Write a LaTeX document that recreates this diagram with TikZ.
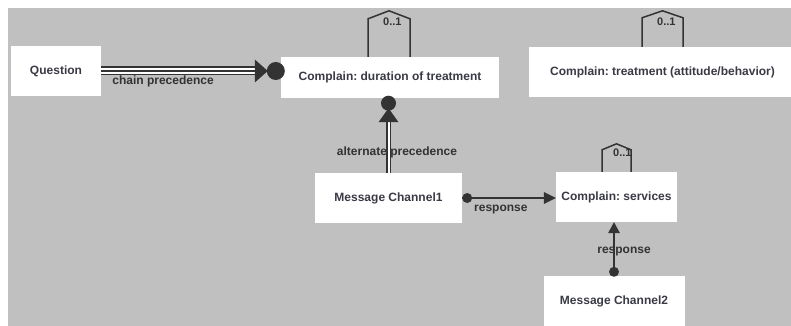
\documentclass[tikz,border=0pt]{standalone}
\usepackage{fontspec}
\setmainfont{Liberation Sans}
\usetikzlibrary{calc}
\definecolor{canvas}{RGB}{192,192,192}
\definecolor{ink}{RGB}{51,51,51}
\definecolor{boxtext}{RGB}{58,58,70}
\frenchspacing

\begin{document}
\begin{tikzpicture}[x=1pt,y=-1pt,
  actbox/.style={draw=none,fill=white,inner sep=0pt,
    font=\bfseries\fontsize{12}{14}\selectfont,text=boxtext},
  elabel/.style={font=\bfseries\fontsize{12}{14}\selectfont,text=ink,inner sep=0pt},
  mult/.style={font=\bfseries\fontsize{11}{13}\selectfont,text=ink,inner sep=0pt,anchor=west},
  wire/.style={draw=ink,line width=1.6pt},
  loopline/.style={draw=ink,line width=1.5pt,line join=miter},
]
\useasboundingbox (0,0) rectangle (791,326);
\clip (0,0) rectangle (791,326);
\fill[white] (0,0) rectangle (791,326);
\fill[canvas] (8,8) rectangle (791,326);

% activities
\node[actbox,minimum width=90pt,minimum height=50pt]  (Q)     at (56,71)     {Question};
\node[actbox,minimum width=218pt,minimum height=41pt] (dur)   at (390,77.5)  {Complain: duration of treatment};
\node[actbox,minimum width=267pt,minimum height=50pt] (treat) at (662.5,72)  {Complain: treatment (attitude/behavior)};
\node[actbox,minimum width=147pt,minimum height=50pt] (mc1)   at (388.5,198) {Message Channel1};
\node[actbox,minimum width=121pt,minimum height=50pt] (svc)   at (616.5,197) {Complain: services};
\node[actbox,minimum width=141pt,minimum height=50pt] (mc2)   at (614,301)   {Message Channel2};

% chain precedence: triple line, triangle and dot
\coordinate (cp) at (Q.east -| dur.west);
\draw[ink,line width=9pt]   (Q.east) -- ($(cp)+(-25,0)$);
\draw[white,line width=5.6pt] (Q.east) -- ($(cp)+(-25,0)$);
\draw[ink,line width=1.6pt] (Q.east) -- ($(cp)+(-25,0)$);
\fill[ink] ($(cp)+(-26,-11.5)$) -- ($(cp)+(-13,0)$) -- ($(cp)+(-26,11.5)$) -- cycle;
\fill[ink] ($(cp)+(-5,0)$) circle (9pt);
\node[elabel,anchor=west] (lchain) at ($(Q.east)+(11,10.5)$) {chain precedence};

% alternate precedence: double line, triangle and dot
\coordinate (ap) at (mc1.north |- dur.south);
\draw[ink,line width=5.6pt]   (mc1.north) -- ($(ap)+(0,23)$);
\draw[white,line width=2pt]   (mc1.north) -- ($(ap)+(0,23)$);
\fill[ink] ($(ap)+(-10,24)$) -- ($(ap)+(0,10)$) -- ($(ap)+(10,24)$) -- cycle;
\fill[ink] ($(ap)+(0,5)$) circle (7.5pt);
\node[elabel] (lalt) at (397,152) {alternate precedence};

% response: Message Channel1 -> services
\coordinate (r1) at (mc1.east -| svc.west);
\draw[wire] (mc1.east) -- ($(r1)+(-10,0)$);
\fill[ink] ($(mc1.east)+(5,0)$) circle (5pt);
\fill[ink] ($(r1)+(-12,-6)$) -- (r1) -- ($(r1)+(-12,6)$) -- cycle;
\node[elabel,anchor=west] (lr1) at (474,209.5) {response};

% response: Message Channel2 -> services
\coordinate (r2) at (mc2.north |- svc.south);
\draw[wire] (mc2.north) -- ($(r2)+(0,10)$);
\fill[ink] ($(mc2.north)+(0,-4)$) circle (5pt);
\fill[ink] ($(r2)+(-6,11)$) -- (r2) -- ($(r2)+(6,11)$) -- cycle;
\node[elabel] (lr2) at (624,251.5) {response};

% 0..1 self loops
\node[mult] (mdur) at ($(dur.north)+(-7,-35)$) {0..1};
\draw[loopline] ($(dur.north)+(-22,0)$) -- ++(0,-38) -- ++(21,-8) -- ++(21,8) -- ++(0,38);

\node[mult] (mtreat) at ($(treat.north)+(-5.5,-25.5)$) {0..1};
\draw[loopline] ($(treat.north)+(-20.5,0)$) -- ++(0,-29) -- ++(20.5,-7) -- ++(20.5,7) -- ++(0,29);

\node[mult] (msvc) at ($(svc.north)+(-3.5,-19.5)$) {0..1};
\draw[loopline] ($(svc.north)+(-14.5,0)$) -- ++(0,-22) -- ++(14.5,-6) -- ++(14.5,6) -- ++(0,22);
\end{tikzpicture}
\end{document}
